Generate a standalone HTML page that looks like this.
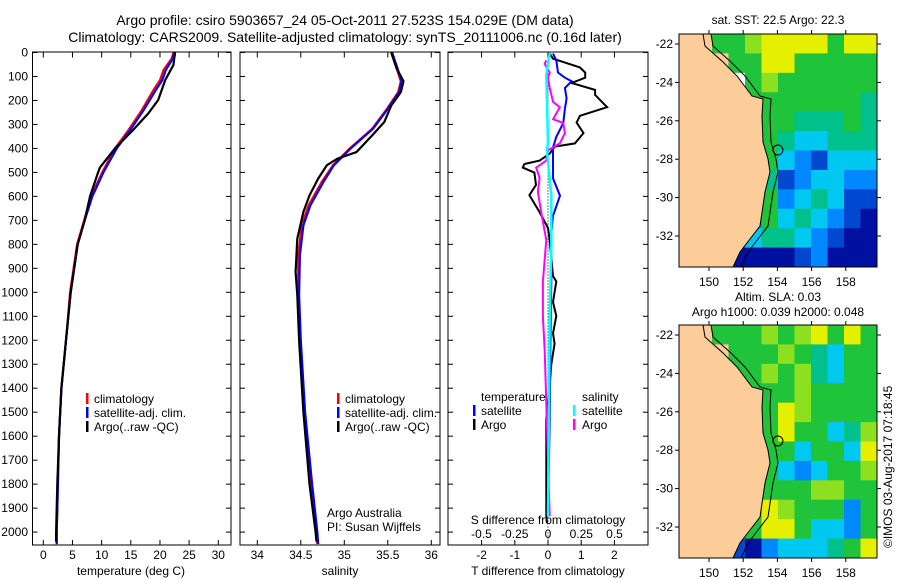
<!DOCTYPE html>
<html><head><meta charset="utf-8"><style>
body{margin:0;background:#fff;}
svg{display:block;font-family:"Liberation Sans",sans-serif;}
</style></head><body>
<svg id="c" width="900" height="580" viewBox="0 0 900 580">
<text x="345" y="25" font-size="14" text-anchor="middle">Argo profile: csiro 5903657_24 05-Oct-2011 27.523S 154.029E (DM data)</text>
<text x="345" y="42" font-size="14" text-anchor="middle">Climatology: CARS2009. Satellite-adjusted climatology: synTS_20111006.nc (0.16d later)</text>
</svg>
<script>
// ---- data ----
const tClimD=[0,26,73,115,156,240,323,400,500,600,700,800,1000,1200,1400,1600,1800,2000,2050];
const tClimV=[22.3,22.0,20.6,20.0,18.9,16.9,14.6,12.3,10.1,8.2,7.0,5.8,4.6,3.9,3.1,2.7,2.5,2.3,2.3];
const tSatV=[22.5,22.2,21.0,20.4,19.3,17.2,14.9,12.6,10.3,8.4,7.1,5.9,4.7,3.9,3.1,2.7,2.5,2.3,2.3];
const tArgoD=[0,52,115,198,254,323,400,480,500,600,700,800,1000,1200,1400,1600,1800,2000,2040];
const tArgoV=[22.6,22.3,20.9,19.7,18.0,15.4,12.3,9.7,9.4,8.0,7.1,5.9,4.7,3.9,3.1,2.7,2.4,2.2,2.2];
const sClimD=[0,65,120,165,235,318,401,470,540,637,720,845,1012,1200,1500,1800,2000,2050];
const sClimV=[35.54,35.6,35.65,35.62,35.49,35.32,35.06,34.87,34.74,34.59,34.51,34.47,34.47,34.49,34.54,34.62,34.68,34.69];
const sSatV=[35.55,35.61,35.66,35.63,35.5,35.33,35.07,34.88,34.76,34.61,34.53,34.49,34.48,34.5,34.55,34.63,34.69,34.7];
const sArgoD=[0,65,120,165,221,290,346,415,443,470,526,596,665,776,915,1012,1200,1500,1800,2000,2040];
const sArgoV=[35.54,35.6,35.68,35.65,35.54,35.46,35.32,35.14,34.92,34.8,34.7,34.6,34.53,34.46,34.44,34.46,34.48,34.53,34.6,34.67,34.68];
const dTArgoD=[4,26,62,84,105,127,156,177,228,264,292,336,379,393,422,451,465,480,501,552,595,667,732,782,933,955,1041,1099,1171,1214,1300,1387,1531,1934,1963];
const dTArgoV=[.05,.15,.96,1.12,1.12,.71,1.42,1.42,1.78,.96,.86,1.07,.81,.2,.05,-.25,-.71,-.76,-.41,-.36,-.56,-.25,0,.05,.15,.25,.15,.25,.15,.2,.1,.05,-.05,-.05,-.03];
const dTSatD=[4,33,84,105,120,148,191,235,294,352,396,525,597,681,753,955,1243,1531,1934];
const dTSatV=[.15,.25,.3,.51,.71,.51,.56,.51,.46,.25,.15,.15,.36,.15,.1,.1,.07,.05,0];
const dSArgoD=[33,48,84,105,148,206,228,278,294,336,379,408,451,480,523,581,667,782,955,1099,1243,1459,1934];
const dSArgoV=[-.013,-.025,.013,0,.013,.038,.089,.038,.114,.127,.089,0,-.013,-.089,-.063,-.076,-.051,-.013,-.038,-.038,-.025,-.013,.013];
const dSSatD=[4,91,379,408,595,811,1099,1934];
const dSSatV=[.013,-.013,0,-.008,.025,.025,.013,0];
const depthTicks=[0,100,200,300,400,500,600,700,800,900,1000,1100,1200,1300,1400,1500,1600,1700,1800,1900,2000];
const tTicks=[0,5,10,15,20,25,30];
const sTicks=[34,34.5,35,35.5,36];
const sTickLabels=["34","34.5","35","35.5","36"];
const dTTicks=[-2,-1,0,1,2];
const dSTicks=[-0.5,-0.25,0,0.25,0.5];
const dSTickLabels=["-0.5","-0.25","0","0.25","0.5"];
const latTicks=[-22,-24,-26,-28,-30,-32];
const lonTicks=[150,152,154,156,158];
const map1Rows=["LLggGyyyygyy","LLLggyyggggg","LLLwgGgggggg","LLLwgggggggt","LLLLgggtttgt","LLLLggtccttt","LLLLtgcbBccc","LLLLctBbccbb","LLLLbgbctcBB","LLLLbgctcbBn","LLLbcttcbBnn","LLbnnnnBbnnn"];
const map2Rows=["LLgggGgGygyg","LLLgggGgtcgg","LLLggGgGtcgg","LLLggggGgggg","LLLLggyGgggg","LLLLggyggctG","LLLLgggcggcy","LLLLggcbcggG","LLLLggggGGgg","LLLLgyGgggbg","LLLtgyygccbg","LLgBnbccctgy"];
// ---- helpers ----
const svg=document.getElementById('c');
const NS='http://www.w3.org/2000/svg';
function mk(tag,at,parent){const e=document.createElementNS(NS,tag);for(const k in at)e.setAttribute(k,at[k]);(parent||svg).appendChild(e);return e;}
const pTop=52.5, dScale=0.2398;
const yD=d=>pTop+d*dScale;
const boxB=545;
function frameBox(x0,x1,name){
  const r=mk('rect',{x:x0,y:pTop-0.5,width:x1-x0,height:boxB-pTop+0.5,fill:'none',stroke:'#000','stroke-width':1});
  
  
  depthTicks.forEach(d=>{mk('line',{x1:x0,x2:x0+5,y1:yD(d),y2:yD(d),stroke:'#000'});mk('line',{x1:x1-5,x2:x1,y1:yD(d),y2:yD(d),stroke:'#000'});});
}
function xticks(vals,labels,fx,ylab,name){
  vals.forEach((v,i)=>{const x=fx(v);mk('line',{x1:x,x2:x,y1:pTop,y2:pTop+5,stroke:'#000'});mk('line',{x1:x,x2:x,y1:boxB-5,y2:boxB,stroke:'#000'});
    const t=mk('text',{x:x,y:ylab,'font-size':12,'text-anchor':'middle'});t.textContent=labels[i];
    
    });
}
function drawLine(D,V,fx,color,w,name){
  const p=mk('polyline',{points:D.map((d,i)=>fx(V[i]).toFixed(1)+','+yD(d).toFixed(1)).join(' '),fill:'none',stroke:color,'stroke-width':w});
  
  
}
function txt(x,y,s,name,extra){const t=mk('text',Object.assign({x:x,y:y,'font-size':12},extra||{}));t.textContent=s;
  
  return t;}
function legendBar(x,y,color){const r=mk('rect',{x:x,y:y-10,width:2.5,height:11,fill:color});
  
  }
// ---- panel 1 temperature ----
const xT=v=>43.3+v*5.833;
frameBox(32.5,231,'temperature-panel');
xticks(tTicks,tTicks.map(String),xT,559,'temperature-tick-label');
depthTicks.forEach(d=>txt(28,yD(d)+4,String(d),'depth-tick-label',{'text-anchor':'end'}));
drawLine(tClimD,tClimV,xT,'#f00',2.2,'temperature-climatology-line');
drawLine(tClimD,tSatV,xT,'#00f',2.2,'temperature-satellite-line');
drawLine(tArgoD,tArgoV,xT,'#000',2.2,'temperature-argo-line');
txt(131,575,'temperature (deg C)','temperature-axis-title',{'text-anchor':'middle'});
[['#f00','climatology'],['#00f','satellite-adj. clim.'],['#000','Argo(..raw -QC)']].forEach((e,i)=>{legendBar(86,403+i*14,e[0]);txt(94,403+i*14,e[1],'temperature-legend-entry');});
// ---- panel 2 salinity ----
const xS=v=>257.3+(v-34)*87;
frameBox(240,440,'salinity-panel');
xticks(sTicks,sTickLabels,xS,559,'salinity-tick-label');
drawLine(sClimD,sClimV,xS,'#f00',2.2,'salinity-climatology-line');
drawLine(sClimD,sSatV,xS,'#00f',2.2,'salinity-satellite-line');
drawLine(sArgoD,sArgoV,xS,'#000',2.2,'salinity-argo-line');
txt(340,575,'salinity','salinity-axis-title',{'text-anchor':'middle'});
[['#f00','climatology'],['#00f','satellite-adj. clim.'],['#000','Argo(..raw -QC)']].forEach((e,i)=>{legendBar(337,403+i*14,e[0]);txt(345,403+i*14,e[1],'salinity-legend-entry');});
txt(327,517,'Argo Australia','argo-australia-label');
txt(327,531,'PI: Susan Wijffels','pi-label');
// ---- panel 3 differences ----
const xDT=v=>548+v*33.2;
const xDS=v=>548+v*133;
frameBox(448,648,'difference-panel');
xticks(dTTicks,dTTicks.map(String),xDT,559,'t-difference-tick-label');
dSTicks.forEach((v,i)=>txt(xDS(v),538,dSTickLabels[i],'s-difference-tick-label',{'text-anchor':'middle'}));
txt(548,524,'S difference from climatology','s-difference-axis-title',{'text-anchor':'middle'});
txt(548,575,'T difference from climatology','t-difference-axis-title',{'text-anchor':'middle'});
mk('line',{x1:548,x2:548,y1:pTop,y2:boxB,stroke:'#000','stroke-dasharray':'1,2'});
drawLine(dTArgoD,dTArgoV,xDT,'#000',2,'t-difference-argo-line');
drawLine(dTSatD,dTSatV,xDT,'#00f',2,'t-difference-satellite-line');
drawLine(dSArgoD,dSArgoV,xDS,'#f0f',2,'s-difference-argo-line');
drawLine(dSSatD,dSSatV,xDS,'#0ff',2.5,'s-difference-satellite-line');
txt(481,401,'temperature','legend-temperature-heading');
txt(582,401,'salinity','legend-salinity-heading');
legendBar(473,415,'#00f');txt(481,415,'satellite','legend-t-satellite');
legendBar(473,429,'#000');txt(481,429,'Argo','legend-t-argo');
legendBar(573,415,'#0ff');txt(582,415,'satellite','legend-s-satellite');
legendBar(573,429,'#f0f');txt(582,429,'Argo','legend-s-argo');
// ---- maps ----
const pal={L:'#fccc99',w:'#ffffff',y:'#e4f000',G:'#8ce020',g:'#1fc43a',t:'#00c08c',c:'#00c8f0',b:'#0088ff',B:'#0048d0',n:'#0010a0'};
const coast=[[703,0],[705,12],[723,28],[737,42],[752,62],[763,65],[762,82],[763,108],[768,125],[770,138],[765,158],[760,192],[750,205],[740,218],[733,233]];
function drawMap(y0,rows,name){
  const g=mk('g',{});
  
  
  const x0=679,W=198,H=233,cw=W/12,ch=H/12;
  rows.forEach((r,j)=>{for(let i=0;i<12;i++){mk('rect',{x:x0+i*cw,y:y0+j*ch,width:cw+0.5,height:ch+0.5,fill:pal[r[i]]||pal.g},g);}});
  const pts=coast.map(p=>p[0]+','+(y0+p[1])).join(' ')+' '+x0+','+(y0+H)+' '+x0+','+y0;
  mk('polygon',{points:pts,fill:pal.L,stroke:'#000','stroke-width':1},g);
  mk('polyline',{points:coast.map(p=>(p[0]+8)+','+(y0+p[1])).join(' '),fill:'none',stroke:'#000','stroke-width':1},g);
  const lx=v=>709+(v-150)*17.1, ly=v=>y0+10+(-22-v)*19.2;
  mk('circle',{cx:lx(154.03),cy:ly(-27.52),r:5,fill:'none',stroke:'#000'},g);
  mk('rect',{x:x0,y:y0,width:W,height:H,fill:'none',stroke:'#000'},g);
  latTicks.forEach(v=>{mk('line',{x1:x0-4,x2:x0,y1:ly(v),y2:ly(v),stroke:'#000'});mk('line',{x1:x0+W,x2:x0+W+4,y1:ly(v),y2:ly(v),stroke:'#000'});txt(x0-6,ly(v)+4,String(v),'latitude-tick-label',{'text-anchor':'end'});});
  lonTicks.forEach(v=>{mk('line',{x1:lx(v),x2:lx(v),y1:y0-4,y2:y0,stroke:'#000'});mk('line',{x1:lx(v),x2:lx(v),y1:y0+H,y2:y0+H+4,stroke:'#000'});txt(lx(v),y0+H+19,String(v),'longitude-tick-label',{'text-anchor':'middle'});});
}
drawMap(34,map1Rows,'sst-map');
drawMap(325,map2Rows,'sla-map');
txt(778,24,'sat. SST: 22.5  Argo: 22.3','sst-map-title',{'text-anchor':'middle'});
txt(778,301,'Altim. SLA: 0.03','sla-map-title',{'text-anchor':'middle'});
txt(778,316,'Argo h1000: 0.039 h2000: 0.048','argo-height-label',{'text-anchor':'middle'});
txt(0,0,'©IMOS 03-Aug-2017 07:18:45','imos-timestamp',{transform:'translate(892,548) rotate(-90)'});
</script>
</body></html>
